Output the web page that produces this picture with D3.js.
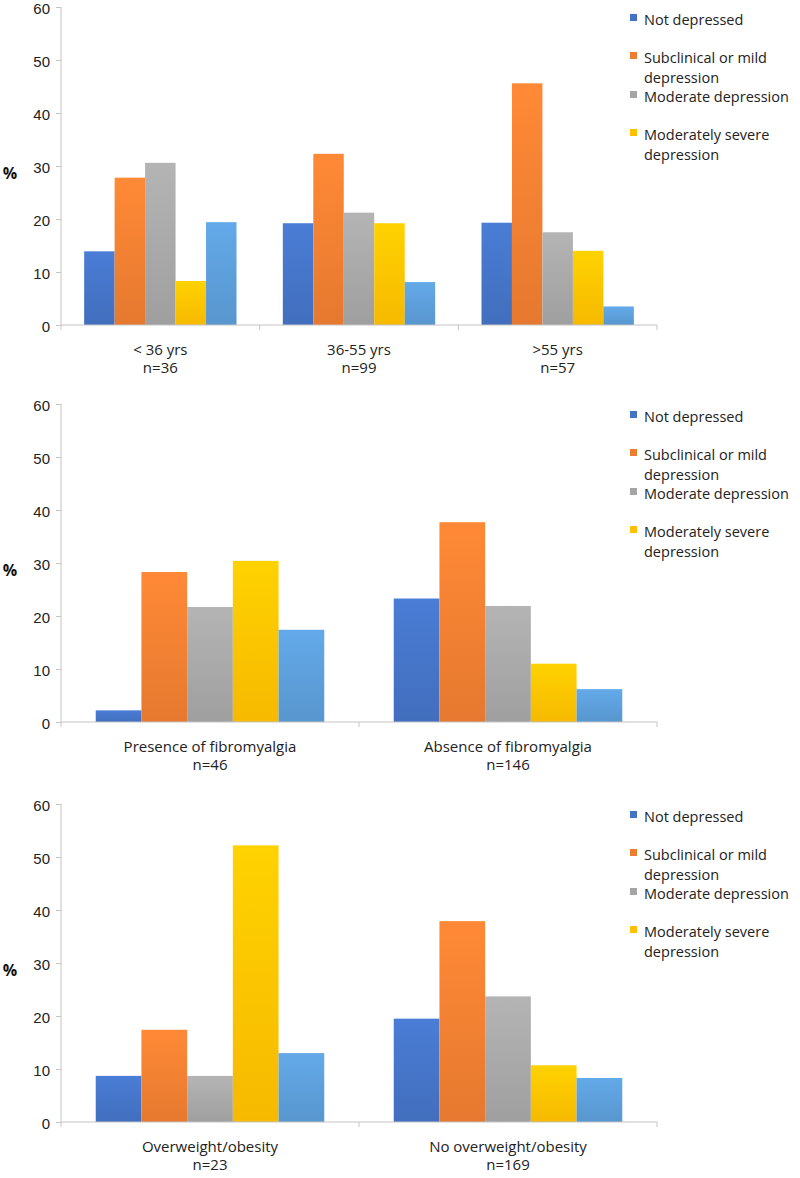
<!DOCTYPE html>
<html>
<head>
<meta charset="utf-8">
<script src="https://cdn.jsdelivr.net/npm/d3@7"></script>
<style>
  body { margin: 0; background: #fff; }
  svg { display: block; font-family: 'Open Sans', sans-serif; }
</style>
</head>
<body>
<script>
// series (5th bar series has no legend entry in the original)
const seriesNames = ['Not depressed', 'Subclinical or mild depression', 'Moderate depression', 'Moderately severe depression', 'Severe depression']
const seriesColors = ['#4472C4', '#ED7D31', '#A5A5A5', '#FFC000', '#5B9BD5']
const legendLines = [['Not depressed'], ['Subclinical or mild', 'depression'], ['Moderate depression'], ['Moderately severe', 'depression']]
const yTicks = [0, 10, 20, 30, 40, 50, 60]

const ageCategories = ['< 36 yrs', '36-55 yrs', '>55 yrs']
const ageN = ['n=36', 'n=99', 'n=57']
const ageValues = [
    [13.9, 27.8, 30.6, 8.3, 19.4],
    [19.2, 32.3, 21.2, 19.2, 8.1],
    [19.3, 45.6, 17.5, 14.0, 3.5]
]

const fibroCategories = ['Presence of fibromyalgia', 'Absence of fibromyalgia']
const fibroN = ['n=46', 'n=146']
const fibroValues = [
    [2.2, 28.3, 21.7, 30.4, 17.4],
    [23.3, 37.7, 21.9, 11.0, 6.2]
]

const weightCategories = ['Overweight/obesity', 'No overweight/obesity']
const weightN = ['n=23', 'n=169']
const weightValues = [
    [8.7, 17.4, 8.7, 52.2, 13.0],
    [19.5, 37.9, 23.7, 10.7, 8.3]
]

const W = 800
const H = 1178

const svg = d3.select('body').append('svg')
    .attr('width', W)
    .attr('height', H)

// soft vertical gradients like the original bars
const defs = svg.append('defs')
seriesColors.forEach((c, i) => {
    const g = defs.append('linearGradient')
        .attr('id', 'grad' + i)
        .attr('x1', 0).attr('y1', 0).attr('x2', 0).attr('y2', 1)
    g.append('stop').attr('offset', '0%').attr('stop-color', d3.color(c).brighter(0.25))
    g.append('stop').attr('offset', '100%').attr('stop-color', d3.color(c).darker(0.1))
})

const drawPanel = (top, categories, nLabels, values) => {
    const left = 61
    const right = 657
    const plotH = 318
    const axisColor = '#c4c4c4'

    const g = svg.append('g')

    const y = d3.scaleLinear()
        .domain([0, 60])
        .range([top + plotH, top])

    const x0 = d3.scaleBand()
        .domain(categories)
        .range([left, right])

    const x1 = d3.scaleBand()
        .domain(d3.range(seriesNames.length))
        .range([0, x0.bandwidth()])
        .paddingInner(0)
        .paddingOuter(0.76)

    // y axis
    const yAxis = g.append('g')
        .attr('transform', `translate(${left},0)`)
        .call(d3.axisLeft(y).tickValues(yTicks).tickSize(5).tickPadding(6))
    yAxis.select('.domain').attr('stroke', axisColor)
        .attr('d', `M0,${y(60)}V${y(0) + 5}`)
    yAxis.selectAll('.tick line').attr('stroke', axisColor)
    yAxis.selectAll('.tick text')
        .attr('fill', '#222')
        .attr('dy', '0.45em')
        .style('font-size', '15px')

    // bars
    const groups = g.selectAll('.grp')
        .data(values)
        .enter()
        .append('g')
        .attr('transform', (d, i) => `translate(${x0(categories[i])},0)`)

    groups.selectAll('rect')
        .data(d => d)
        .enter()
        .append('rect')
        .attr('x', (d, i) => x1(i))
        .attr('y', d => y(d))
        .attr('width', x1.bandwidth())
        .attr('height', d => y(0) - y(d))
        .attr('fill', (d, i) => `url(#grad${i})`)

    // x axis
    g.append('line')
        .attr('x1', left).attr('x2', right)
        .attr('y1', y(0)).attr('y2', y(0))
        .attr('stroke', axisColor)
    const bounds = categories.map(c => x0(c) + x0.bandwidth())
    g.selectAll('.xtick')
        .data(bounds)
        .enter()
        .append('line')
        .attr('x1', d => d).attr('x2', d => d)
        .attr('y1', y(0)).attr('y2', y(0) + 5)
        .attr('stroke', axisColor)

    categories.forEach((c, i) => {
        const cx = x0(c) + x0.bandwidth() / 2
        g.append('text')
            .attr('x', cx)
            .attr('y', y(0) + 30)
            .attr('text-anchor', 'middle')
            .attr('fill', '#222')
            .style('font-size', '15px')
            .text(c)
        g.append('text')
            .attr('x', cx)
            .attr('y', y(0) + 48)
            .attr('text-anchor', 'middle')
            .attr('fill', '#222')
            .style('font-size', '15px')
            .text(nLabels[i])
    })

    // % label
    g.append('text')
        .attr('x', 10)
        .attr('y', top + plotH / 2 + 13)
        .attr('text-anchor', 'middle')
        .attr('fill', '#111')
        .style('font-size', '16px')
        .style('font-weight', 'bold')
        .text('%')

    // legend (4 entries only, as in the original)
    const legendY = [0, 38, 77, 115]
    legendLines.forEach((lines, i) => {
        const ly = top + 6 + legendY[i]
        g.append('rect')
            .attr('x', 630)
            .attr('y', ly + 1)
            .attr('width', 7)
            .attr('height', 7)
            .attr('fill', seriesColors[i])
        lines.forEach((t, j) => {
            g.append('text')
                .attr('x', 644)
                .attr('y', ly + 12 + j * 20)
                .attr('fill', '#222')
                .style('font-size', '14.5px')
                .text(t)
        })
    })
}

drawPanel(7, ageCategories, ageN, ageValues)
drawPanel(404, fibroCategories, fibroN, fibroValues)
drawPanel(804, weightCategories, weightN, weightValues)
</script>
</body>
</html>
